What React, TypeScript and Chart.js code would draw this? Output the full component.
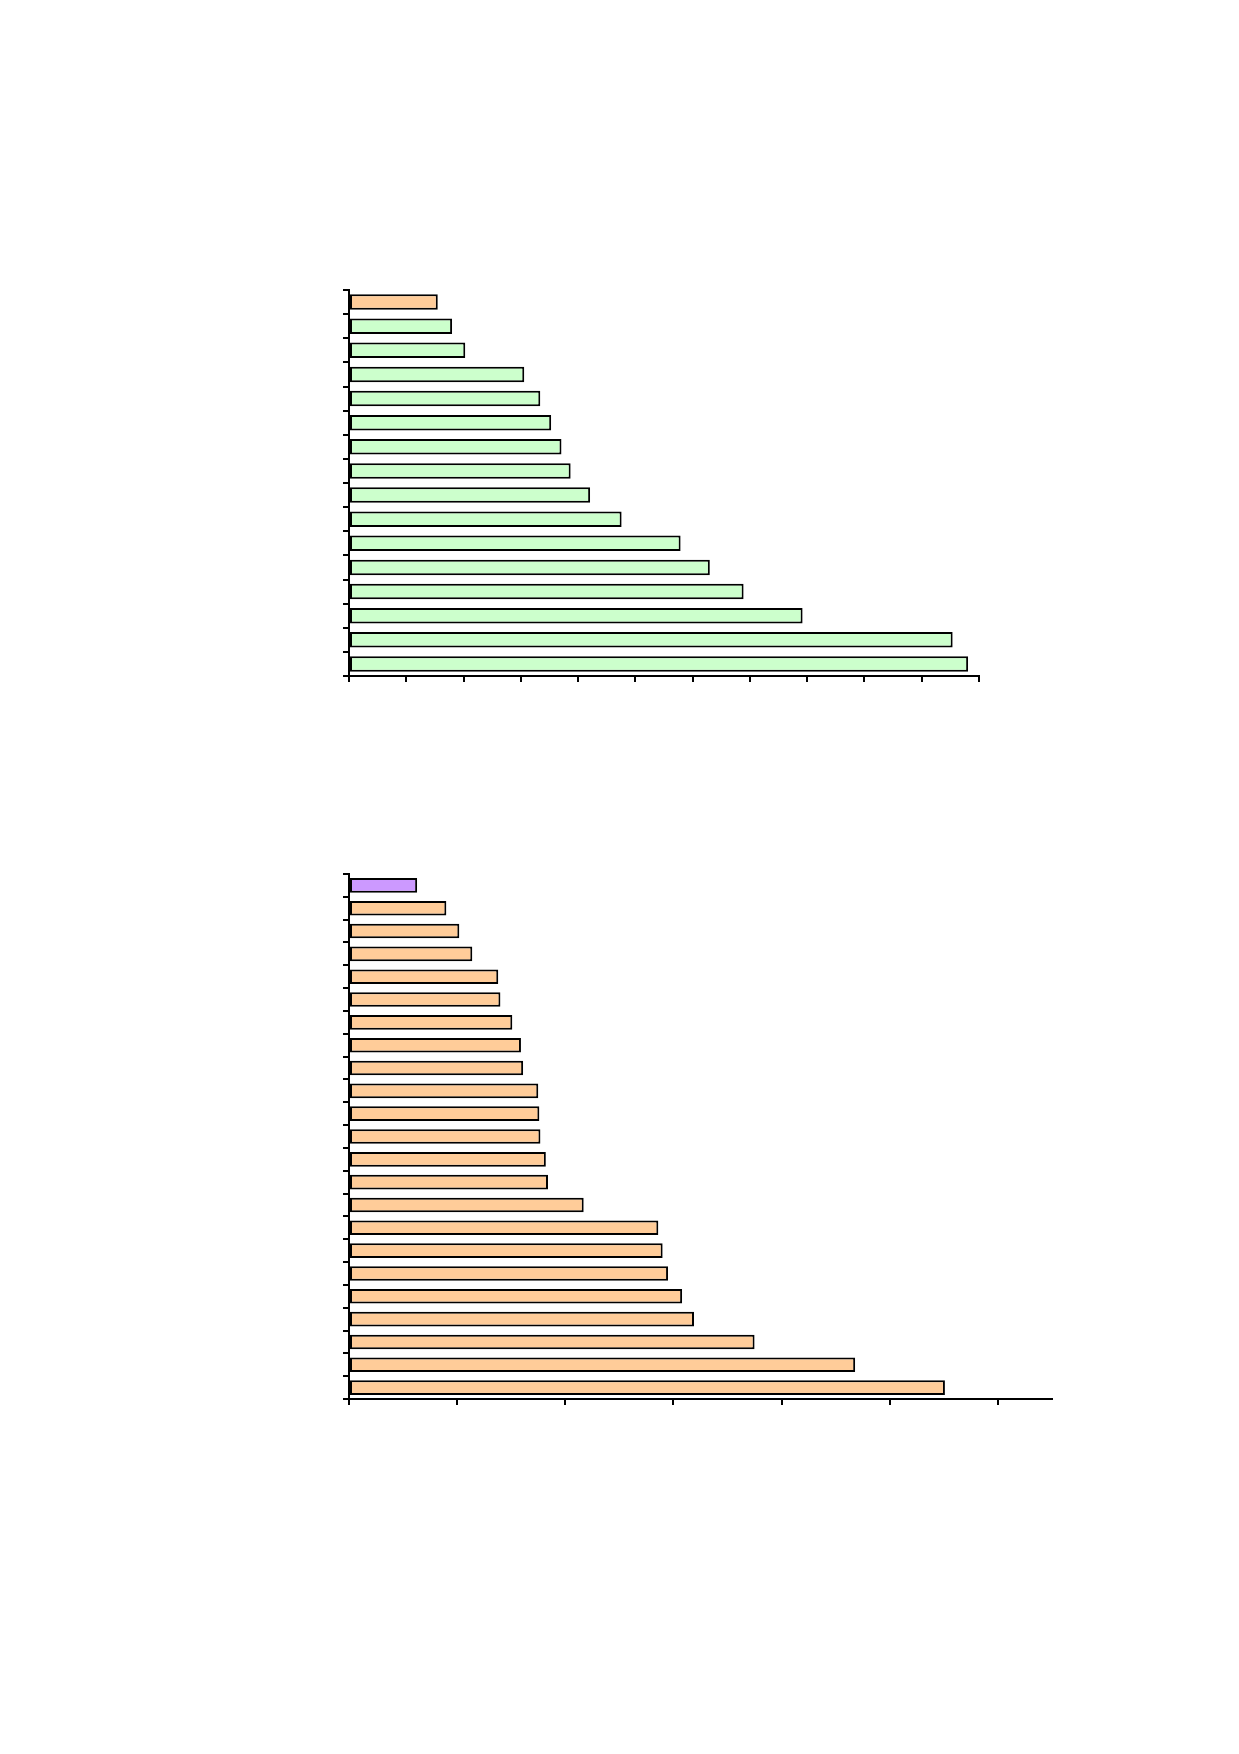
import { Chart, registerables, ChartConfiguration } from "chart.js";
import { useRef, useEffect } from "react";

Chart.register(...registerables);

// upper chart: 16 categories, first bar highlighted
const topCategories = [
  "1", "2", "3", "4", "5", "6", "7", "8",
  "9", "10", "11", "12", "13", "14", "15", "16",
];
const topValues = [
  1.55, 1.8, 2.03, 3.06, 3.34, 3.53, 3.71, 3.87, 4.21, 4.76, 5.79, 6.3, 6.89,
  7.92, 10.54, 10.81,
];
const topMax = 11;

// lower chart: 23 categories, first bar highlighted
const bottomCategories = [
  "1", "2", "3", "4", "5", "6", "7", "8", "9", "10", "11", "12",
  "13", "14", "15", "16", "17", "18", "19", "20", "21", "22", "23",
];
const bottomValues = [
  0.63, 0.9, 1.02, 1.14, 1.38, 1.4, 1.51, 1.59, 1.61, 1.75, 1.76, 1.77, 1.82,
  1.84, 2.17, 2.86, 2.9, 2.95, 3.08, 3.19, 3.75, 4.68, 5.51,
];
const bottomMax = 6.5;

const GREEN = "#ccffcc";
const ORANGE = "#ffcc99";
const PURPLE = "#cc99ff";

function BarPanel({
  categories,
  values,
  max,
  baseColor,
  firstColor,
  left,
  top,
  width,
  height,
}: {
  categories: string[];
  values: number[];
  max: number;
  baseColor: string;
  firstColor: string;
  left: number;
  top: number;
  width: number;
  height: number;
}) {
  const chartRef = useRef<HTMLCanvasElement>(null);

  useEffect(() => {
    if (!chartRef.current) return;
    const ctx = chartRef.current.getContext("2d");
    if (!ctx) return;

    const axisGrid = {
      drawOnChartArea: false,
      drawTicks: true,
      tickLength: 6,
      color: "#000",
      lineWidth: 2,
    };

    const config: ChartConfiguration = {
      type: "bar",
      data: {
        labels: categories,
        datasets: [
          {
            data: values,
            backgroundColor: values.map((_, i) => (i === 0 ? firstColor : baseColor)),
            borderColor: "#000",
            borderWidth: 2,
            borderSkipped: false,
            categoryPercentage: 1,
            barPercentage: 0.64,
          },
        ],
      },
      options: {
        indexAxis: "y",
        animation: false,
        responsive: true,
        maintainAspectRatio: false,
        layout: { padding: 10 },
        plugins: {
          legend: { display: false },
          tooltip: { enabled: false },
        },
        scales: {
          x: {
            type: "linear",
            min: 0,
            max: max,
            grid: axisGrid,
            border: { display: true, color: "#000", width: 2 },
            ticks: { display: false, stepSize: 1, includeBounds: false },
          },
          y: {
            grid: axisGrid,
            border: { display: true, color: "#000", width: 2 },
            ticks: { display: false },
          },
        },
      },
    };

    const chart = new Chart(ctx, config);
    return () => {
      chart.destroy();
    };
  }, []);

  return (
    <div style={{ position: "absolute", left, top, width, height }}>
      <canvas ref={chartRef} />
    </div>
  );
}

export default function App() {
  return (
    <div style={{ position: "relative", width: 1239, height: 1754, background: "#fff" }}>
      <div style={{ position: "absolute", left: -8, top: -8, width: 1239, height: 1754 }}>
        <BarPanel
          categories={topCategories}
          values={topValues}
          max={topMax}
          baseColor={GREEN}
          firstColor={ORANGE}
          left={333}
          top={280}
          width={656}
          height={412}
        />
        <BarPanel
          categories={bottomCategories}
          values={bottomValues}
          max={bottomMax}
          baseColor={ORANGE}
          firstColor={PURPLE}
          left={333}
          top={864}
          width={729}
          height={551}
        />
      </div>
    </div>
  );
}
